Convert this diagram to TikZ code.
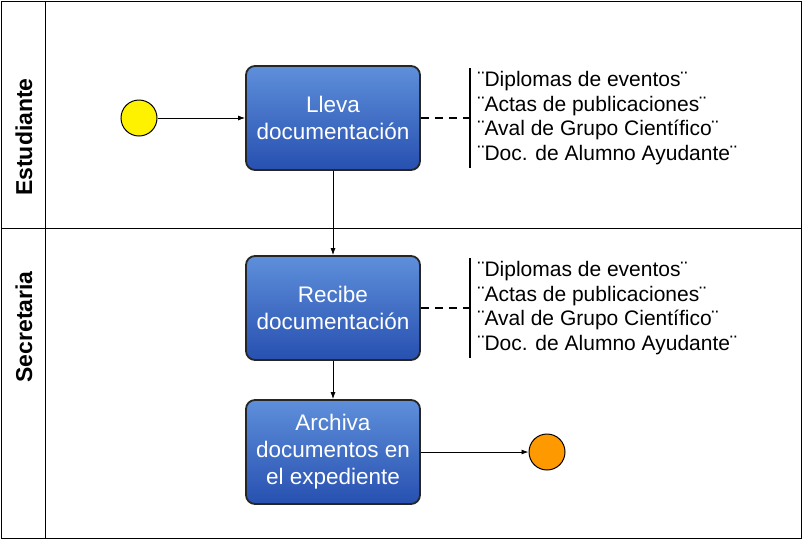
\documentclass[tikz,border=0pt]{standalone}
\usepackage{fontspec}
\setmainfont{Liberation Sans}
\usetikzlibrary{positioning,arrows.meta}
\definecolor{tasktop}{HTML}{5E8FDB}
\definecolor{taskbot}{HTML}{2750B0}

\begin{document}
\begin{tikzpicture}[x=1pt,y=-1pt,
  task/.style={draw=black!85,line width=1.8pt,rounded corners=9pt,
    top color=tasktop,bottom color=taskbot,
    text=white,minimum width=174pt,minimum height=104pt,align=center,
    font=\fontsize{22.5}{27}\selectfont},
  note/.style={anchor=west,align=left,font=\fontsize{21}{24.5}\selectfont},
  flow/.style={-{Latex[length=7pt,width=5pt]},line width=0.9pt},
  lanelabel/.style={rotate=90,font=\bfseries\fontsize{23}{26}\selectfont}]
\useasboundingbox (0,0) rectangle (802,542);
	% frame and lanes
	\draw[line width=0.8pt] (1,1) rectangle (801,538);
	\draw[line width=0.8pt] (45,1) -- (45,538);
	\draw[line width=0.8pt] (1,228) -- (801,228);
	\node[lanelabel] (lane1) at (24,137) {Estudiante};
	\node[lanelabel] (lane2) at (24,327) {Secretaria};
	% events
	\node[circle,draw=black,line width=1pt,fill=yellow,minimum size=36pt] (start) at (139,118) {};
	\node[circle,draw=black,line width=1pt,fill=orange!80!yellow,minimum size=36pt] (end) at (547,452) {};
	% tasks
	\node[task] (lleva) at (333,118) {Lleva\\documentación};
	\node[task] (recibe) at (333,308) {Recibe\\documentación};
	\node[task] (archiva) at (333,452) {Archiva\\documentos en\\el expediente};
	% annotations
	\coordinate (br1t) at (470,68);
	\coordinate (br1b) at (470,168);
	\coordinate (br2t) at (470,258);
	\coordinate (br2b) at (470,358);
	\draw[line width=1.2pt] (br1t) -- (br1b);
	\draw[line width=1.2pt] (br2t) -- (br2b);
	\node[note] (n1) at (474,118) {¨Diplomas de eventos¨\\¨Actas de publicaciones¨\\¨Aval de Grupo Científico¨\\¨Doc. de Alumno Ayudante¨};
	\node[note] (n2) at (474,308) {¨Diplomas de eventos¨\\¨Actas de publicaciones¨\\¨Aval de Grupo Científico¨\\¨Doc. de Alumno Ayudante¨};
	\draw[line width=1.4pt,dash pattern=on 8pt off 6pt] (lleva.east) -- (470,118);
	\draw[line width=1.4pt,dash pattern=on 8pt off 6pt] (recibe.east) -- (470,308);
	% flows
	\draw[flow] (start) -- (lleva);
	\draw[flow] (lleva) -- (recibe);
	\draw[flow] (recibe) -- (archiva);
	\draw[flow] (archiva) -- (end);
\end{tikzpicture}
\end{document}
